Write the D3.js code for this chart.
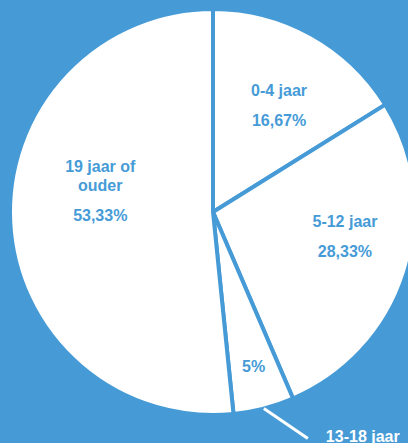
<!DOCTYPE html>
<html>
<head>
<meta charset="utf-8">
<script src="https://cdn.jsdelivr.net/npm/d3@7"></script>
<style>
  html, body { margin: 0; padding: 0; background: #469bd7; overflow: hidden; }
  svg { display: block; }
</style>
</head>
<body>
<svg id="chart" width="408" height="443"></svg>
<script>
// leeftijdsgroepen
var categories = ["0-4 jaar", "5-12 jaar", "13-18 jaar", "19 jaar of ouder"];
var values = [16.67, 28.33, 5, 53.33];
var valueLabels = ["16,67%", "28,33%", "5%", "53,33%"];
// category lines as they wrap inside the slice (13-18 sits outside)
var insideLines = [["0-4 jaar"], ["5-12 jaar"], [], ["19 jaar of", "ouder"]];
var nudge = [[3, 7], [8, -15], [8, 28], [17, -28]];

var blue = "#469bd7";
var width = 408, height = 443;
var cx = 213, cy = 212, radius = 203;

var svg = d3.select("#chart");
var g = svg.append("g").attr("transform", "translate(" + cx + "," + cy + ")");

var data = categories.map(function(c, i) {
    return {name: c, value: values[i], label: valueLabels[i], lines: insideLines[i], nudge: nudge[i]};
});

var pie = d3.pie().sort(null).value(function(d) { return d.value; });
var arc = d3.arc().innerRadius(0).outerRadius(radius);
var labelArc = d3.arc().innerRadius(radius * 0.64).outerRadius(radius * 0.64);
var edgeArc = d3.arc().innerRadius(radius).outerRadius(radius);

var arcs = pie(data);

g.selectAll("path.slice")
  .data(arcs)
  .enter()
  .append("path")
  .attr("class", "slice")
  .attr("d", arc)
  .style("fill", "#ffffff")
  .style("stroke", blue)
  .style("stroke-width", 4)
  .style("stroke-linejoin", "miter");

// labels inside the slices
arcs.forEach(function(a) {
    var c = labelArc.centroid(a);
    var x = c[0] + a.data.nudge[0];
    var y = c[1] + a.data.nudge[1];
    var lines = a.data.lines;
    var catH = lines.length ? (lines.length - 1) * 19 + 12 : 0;
    var gap = lines.length ? 18 : 0;
    var total = catH + gap + 12;
    var top = y - total / 2;
    var txt = g.append("text")
      .attr("text-anchor", "middle")
      .style("font-family", "'Liberation Sans', Arial, sans-serif")
      .style("font-weight", "bold")
      .style("font-size", "16px")
      .style("fill", blue);
    lines.forEach(function(l, i) {
        txt.append("tspan").attr("x", x).attr("y", top + 12 + i * 19).text(l);
    });
    txt.append("tspan").attr("x", x).attr("y", top + total).text(a.data.label);
});

// leader line + outside label for the small slice
var small = arcs[2];
var p0 = edgeArc.centroid(small);
var p1 = [p0[0] + 44, p0[1] + 30];
g.append("line")
  .attr("x1", p0[0]).attr("y1", p0[1])
  .attr("x2", p1[0]).attr("y2", p1[1])
  .style("stroke", "#ffffff")
  .style("stroke-width", 3);
g.append("text")
  .attr("x", p1[0] + 18)
  .attr("y", p1[1] + 3)
  .style("font-family", "'Liberation Sans', Arial, sans-serif")
  .style("font-weight", "bold")
  .style("font-size", "16px")
  .style("fill", "#ffffff")
  .text(small.data.name);
</script>
</body>
</html>
